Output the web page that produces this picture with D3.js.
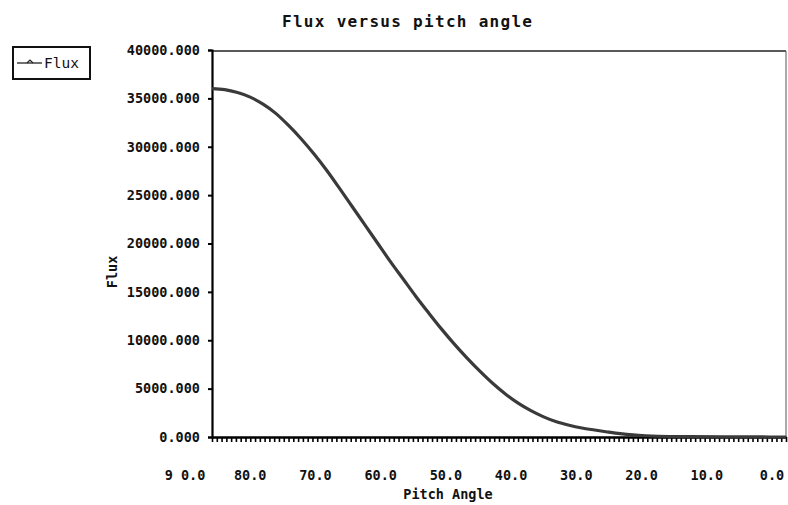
<!DOCTYPE html>
<html><head><meta charset="utf-8">
<script src="https://cdn.jsdelivr.net/npm/d3@7"></script>
<style>
body{margin:0;background:#fff;}
svg{display:block;}
text{font-family:"DejaVu Sans Mono",monospace;fill:#111;}
</style></head>
<body>
<svg id="chart" width="788" height="505"></svg>
<script>
const pitchAngles = [90,88,86,84,82,80,78,76,74,72,70,68,66,64,62,60,58,56,54,52,50,48,46,44,42,40,38,36,34,32,30,28,26,24,22,20,15,10,5,0];
const fluxValues  = [36000,35900,35600,35130,34400,33450,32200,30800,29250,27550,25700,23800,21900,20000,18100,16300,14500,12800,11150,9600,8150,6800,5550,4450,3500,2720,2080,1570,1210,930,720,520,340,210,130,80,35,15,5,0];
const yTicks = [0,5000,10000,15000,20000,25000,30000,35000,40000];
const xTickLabels = ["9 0.0","80.0","70.0","60.0","50.0","40.0","30.0","20.0","10.0","0.0"];
const xTickValues = [90,80,70,60,50,40,30,20,10,0];
const seriesName = "Flux";

const svg = d3.select("#chart");
const L = 212, R = 786, T = 51, B = 437;

const x = d3.scaleLinear().domain([90,0]).range([L,R]);
const y = d3.scaleLinear().domain([0,40000]).range([B,50]);
const xLab = d3.scaleLinear().domain([90,0]).range([185,772]);

// frame top/right
svg.append("line").attr("x1",L).attr("x2",R).attr("y1",T).attr("y2",T)
  .attr("stroke","#222").attr("stroke-width",1.5);
svg.append("line").attr("x1",R).attr("x2",R).attr("y1",T).attr("y2",B)
  .attr("stroke","#555").attr("stroke-width",1);

// title
svg.append("text").attr("x",407).attr("y",27).attr("text-anchor","middle")
  .attr("font-size",16).attr("font-weight","bold").attr("textLength",250)
  .text("Flux versus pitch angle");

// y axis
const ya = svg.append("g").attr("transform",`translate(${L},0)`)
  .call(d3.axisLeft(y).tickValues(yTicks).tickSize(4).tickPadding(8).tickFormat(d3.format(".3f")));
ya.select(".domain").attr("stroke","#000").attr("stroke-width",2.2);
ya.selectAll(".tick line").attr("stroke","#000").attr("stroke-width",2);
ya.selectAll(".tick text").attr("font-family","'DejaVu Sans Mono',monospace")
  .attr("font-size",13.5).attr("font-weight","bold").attr("fill","#111");

// x axis minor ticks
const xa = svg.append("g").attr("transform",`translate(0,${B})`)
  .call(d3.axisBottom(x).tickValues(d3.range(0,90.01,0.75)).tickSize(5).tickSizeOuter(0).tickFormat(""));
xa.select(".domain").attr("stroke","#000").attr("stroke-width",2.5);
xa.selectAll(".tick line").attr("stroke","#000").attr("stroke-width",1.6);

// x labels
svg.append("g").selectAll("text").data(xTickValues).join("text")
  .attr("x",d=>xLab(d)).attr("y",480).attr("text-anchor","middle")
  .attr("font-size",13.5).attr("font-weight","bold")
  .text((d,i)=>xTickLabels[i]);

// axis titles
svg.append("text").attr("x",448).attr("y",499).attr("text-anchor","middle")
  .attr("font-size",13.5).attr("font-weight","bold").text("Pitch Angle");
svg.append("text").attr("transform","translate(117,272) rotate(-90)").attr("text-anchor","middle")
  .attr("font-size",13.5).attr("font-weight","bold").text("Flux");

// line
const data = pitchAngles.map((p,i)=>({p, v:fluxValues[i]}));
svg.append("path").datum(data)
  .attr("fill","none").attr("stroke","#3a3a3a").attr("stroke-width",3.2)
  .attr("stroke-linejoin","round")
  .attr("d", d3.line().x(d=>x(d.p)).y(d=>y(d.v)).curve(d3.curveMonotoneX));

// legend
const lg = svg.append("g");
lg.append("rect").attr("x",13).attr("y",47).attr("width",77).attr("height",32)
  .attr("fill","none").attr("stroke","#111").attr("stroke-width",2);
lg.append("line").attr("x1",17).attr("x2",42).attr("y1",63).attr("y2",63)
  .attr("stroke","#222").attr("stroke-width",1.3);
lg.append("path").attr("d","M27,63 L30,60 L33,63").attr("fill","none").attr("stroke","#222").attr("stroke-width",1.2);
lg.append("text").attr("x",44).attr("y",68).attr("font-size",14.5).attr("fill","#333")
  .text(seriesName);
</script>
</body></html>
